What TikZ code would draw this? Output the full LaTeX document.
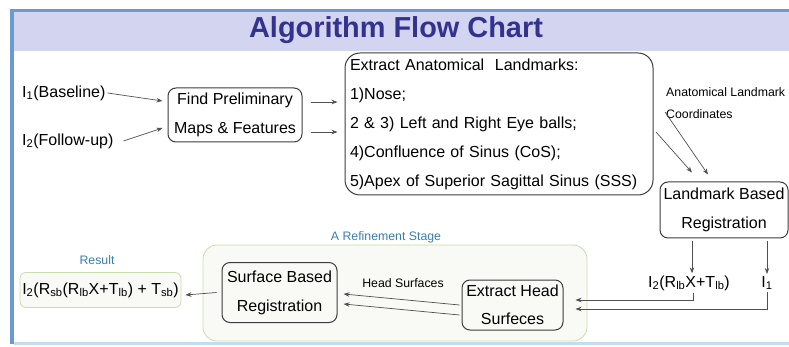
\documentclass[tikz,border=0pt]{standalone}
\usepackage{fontspec}
\setmainfont{Liberation Sans}
\usepackage{xcolor}
\usepackage{tikz}
\usetikzlibrary{arrows.meta,calc}

\definecolor{frameblue}{HTML}{6A9AD0}
\definecolor{bandlav}{HTML}{D2D4F0}
\definecolor{lineblue}{HTML}{C4DCF0}
\definecolor{titleblue}{HTML}{33338F}
\definecolor{stagegreen}{HTML}{C9DCAE}
\definecolor{stagefill}{HTML}{F9F9F6}
\definecolor{labelblue}{HTML}{3A7CB4}
\definecolor{boxline}{HTML}{3C3C3C}

\tikzset{
  box/.style={draw=boxline, line width=1pt, rounded corners=8pt, align=center,
    inner sep=0pt, font=\fontsize{16}{29}\selectfont},
  term/.style={inner sep=2pt, font=\fontsize{16}{19}\selectfont},
  small/.style={inner sep=1pt, font=\fontsize{12.3}{22}\selectfont},
  arr/.style={draw=boxline!90, line width=0.7pt, -{Stealth[length=6pt,width=4.5pt]}}
}

\begin{document}
\begin{tikzpicture}[x=1pt,y=-1pt]
                \useasboundingbox (0,0) rectangle (789,347);
                % Slide frame
                \fill[bandlav] (10,10) rectangle (789,51);
                \fill[frameblue] (10,9) rectangle (789,12);
                \fill[frameblue] (10,9) rectangle (14,344);
                \fill[lineblue] (14,342) rectangle (789,345);
                \node[font=\fontsize{28.9}{30}\selectfont\bfseries, text=titleblue] (title) at (396,30) {Algorithm Flow Chart};

                % Refinement stage background
                \draw[stagegreen, fill=stagefill, line width=0.8pt, rounded corners=14pt] (203,245) rectangle (587,341);
                \node[small, text=labelblue] (stagelbl) at (386,237) {A Refinement Stage};

                % Inputs
                \node[term, anchor=west] (in1) at (20,93) {I\textsubscript{1}(Baseline)};
                \node[term, anchor=west] (in2) at (20,141) {I\textsubscript{2}(Follow-up)};

                % Boxes
                \node[box, minimum width=134, minimum height=54] (prelim) at (235,115) {Find Preliminary\\Maps \& Features};
                \node[box, rounded corners=15pt, minimum width=308, minimum height=142, text width=298, align=left] (extract) at (499,124)
                  {Extract Anatomical\ \ Landmarks:\\1)Nose;\\2 \& 3) Left and Right Eye balls;\\4)Confluence of Sinus (CoS);\\5)Apex of Superior Sagittal Sinus (SSS)};
                \node[small, anchor=west, align=left] (coordlbl) at (665,103) {Anatomical Landmark\\Coordinates};
                \node[box, minimum width=128, minimum height=56] (landmark) at (724,210) {Landmark Based\\Registration};
                \node[term] (ilb) at (689,283) {I\textsubscript{2}(R\textsubscript{lb}X+T\textsubscript{lb})};
                \node[term] (i1t) at (767,283) {I\textsubscript{1}};
                \node[box, minimum width=101, minimum height=50, font=\fontsize{16}{28}\selectfont] (head) at (512.5,305) {Extract Head\\Surfeces};
                \node[small] (headlbl) at (403,283) {Head Surfaces};
                \node[box, minimum width=115, minimum height=60] (surface) at (279.5,292.5) {Surface Based\\Registration};
                \node[draw=stagegreen, fill=stagefill, line width=0.8pt, rounded corners=6pt, term,
                  minimum width=161, minimum height=35] (result) at (100.5,290) {I\textsubscript{2}(R\textsubscript{sb}(R\textsubscript{lb}X+T\textsubscript{lb}) + T\textsubscript{sb})};
                \node[small, text=labelblue] (resultlbl) at (97,260) {Result};

                % Connectors
                \coordinate (c1) at (665,112);
                \coordinate (c2) at (656,132);
                \draw[arr] (in1.east) -- ([shift={(-5,-14)}]prelim.west);
                \draw[arr] ([xshift=8]in2.east) -- ([shift={(-5,13)}]prelim.west);
                \draw[arr] ([shift={(8,-13)}]prelim.east) -- ([shift={(-7,-22)}]extract.west);
                \draw[arr] ([shift={(8,17)}]prelim.east) -- ([shift={(-7,8)}]extract.west);
                \draw[arr] (c1) -- ([shift={(-16,-7)}]landmark.north);
                \draw[arr] (c2) -- ([shift={(-32,-9)}]landmark.north);
                \draw[arr] ([shift={(-32,3)}]landmark.south) -- ([xshift=3]ilb.north);
                \draw[arr] ([shift={(43,3)}]landmark.south) -- (i1t.north);
                \draw[arr] ([xshift=4]ilb.south) |- ([shift={(12,-5)}]head.east);
                \draw[arr] (i1t.south) |- ([shift={(12,4)}]head.east);
                \draw[arr] ([xshift=-2]head.west) -- ([shift={(6,1.5)}]surface.east);
                \draw[arr] ([shift={(-2,10)}]head.west) -- ([shift={(6,11.5)}]surface.east);
                \draw[arr] ([xshift=-5]surface.west) -- ([shift={(4,5)}]result.east);
            \end{tikzpicture}
\end{document}
